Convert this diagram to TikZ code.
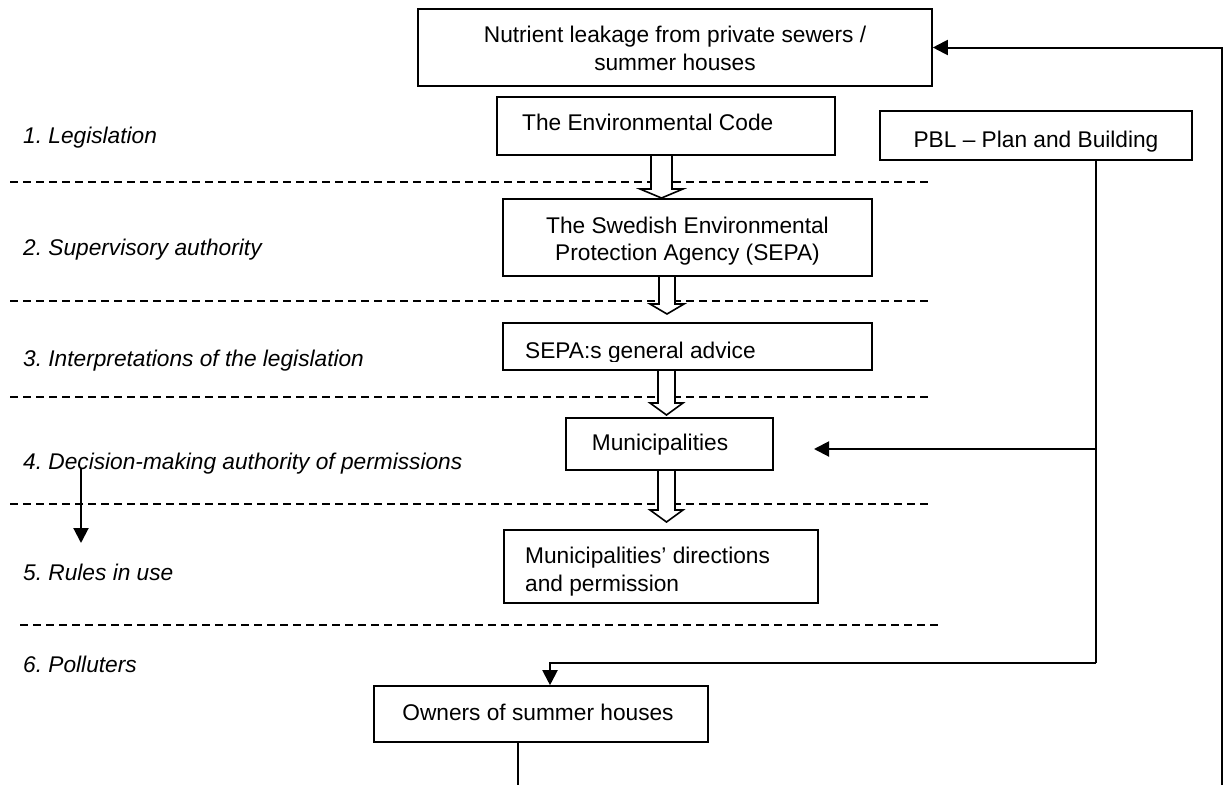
\documentclass[tikz,border=0pt]{standalone}
\usepackage{fontspec}
\setmainfont{Liberation Sans}
\usetikzlibrary{arrows.meta,calc}
\frenchspacing
\newcommand\hollowarrow[6]{% cx, shaft half, head half, top, base, tip
  \filldraw[hollow] (#1-#2,#4) -- (#1-#2,#5) -- (#1-#3,#5) -- (#1,#6) -- (#1+#3,#5) -- (#1+#2,#5) -- (#1+#2,#4) -- cycle;}
\begin{document}
\begin{tikzpicture}[x=1pt,y=-1pt,
  box/.style={draw=black,line width=1.6pt,inner sep=0pt,fill=white},
  txt/.style={inner sep=0pt,anchor=base,font=\fontsize{22.7}{28}\selectfont},
  lab/.style={inner sep=0pt,anchor=base west,font=\fontsize{22.7}{28}\selectfont\itshape},
  conn/.style={line width=2pt},
  tip/.style={line width=2pt,-{Triangle[length=15pt,width=15pt]}},
  dashline/.style={line width=1.5pt,dash pattern=on 8pt off 5pt},
  hollow/.style={draw=black,fill=white,line width=1.6pt,line join=miter}]
\useasboundingbox (0,0) rectangle (1224,785);

% dashed separators
\draw[dashline] (10,182) -- (928,182);
\draw[dashline] (10,301) -- (928,301);
\draw[dashline] (10,397) -- (928,397);
\draw[dashline] (10,504) -- (928,504);
\draw[dashline] (20,625) -- (938,625);

% boxes
\node[box,minimum width=514pt,minimum height=77pt] (top) at (675,47.5) {};
\node[box,minimum width=338pt,minimum height=58pt] (env) at (666,126) {};
\node[box,minimum width=312pt,minimum height=49pt] (pbl) at (1036,135.5) {};
\node[box,minimum width=369pt,minimum height=77pt] (sepa) at (687.5,237.5) {};
\node[box,minimum width=369pt,minimum height=47pt] (adv) at (687.5,346.5) {};
\node[box,minimum width=207pt,minimum height=52pt] (muni) at (669.5,444) {};
\node[box,minimum width=314pt,minimum height=73pt] (dir) at (661,566.5) {};
\node[box,minimum width=334pt,minimum height=56pt] (own) at (541,714) {};

% box texts
\node[txt] (topt1) at (675,42) {Nutrient leakage from private sewers /};
\node[txt] (topt2) at (675,70) {summer houses};
\node[txt,anchor=base west] (envt) at (522,130) {The Environmental Code};
\node[txt] (pblt) at (1036,147) {PBL -- Plan and Building};
\node[txt] (sepat1) at (687.5,233) {The Swedish Environmental};
\node[txt] (sepat2) at (687.5,260) {Protection Agency (SEPA)};
\begin{scope}
\clip (503,323) rectangle (872,361);
\node[txt,anchor=base west] (advt) at (525,358) {SEPA:s general advice};
\end{scope}
\node[txt] (munit) at (660,450) {Municipalities};
\node[txt,anchor=base west] (dirt1) at (525,563) {Municipalities’ directions};
\node[txt,anchor=base west] (dirt2) at (525,591) {and permission};
\node[txt] (ownt) at (538,720) {Owners of summer houses};

% left labels
\node[lab] (l1) at (23,143) {1. Legislation};
\node[lab] (l2) at (23,255) {2. Supervisory authority};
\node[lab] (l3) at (23,366) {3. Interpretations of the legislation};
\node[lab] (l4) at (23,469) {4. Decision-making authority of permissions};
\node[lab] (l5) at (23,580) {5. Rules in use};
\node[lab] (l6) at (23,672) {6. Polluters};

% hollow block arrows
\hollowarrow{661.5}{10.5}{21.5}{155}{189}{198}
\hollowarrow{667}{8}{17}{276}{304}{314}
\hollowarrow{666.5}{8.5}{16.5}{370}{403}{415}
\hollowarrow{666.5}{8.5}{16.5}{470}{510}{522}

% connectors
\coordinate (loopstart) at (1222,785);
\draw[tip] (loopstart) |- (top.east);
\coordinate (pblout) at (1096,160);
\coordinate (pblturn) at (1096,663);
\coordinate (munitip) at (814,449);
\coordinate (munisrc) at (1096,449);
\draw[conn] (pblout) -- (pblturn);
\draw[tip] (pblturn) -| ([xshift=9pt]own.north);
\draw[tip] (munisrc) -- (munitip);
\coordinate (ownend) at (518,785);
\draw[conn] (own.south -| ownend) -- (ownend);
\coordinate (la) at (81,468);
\coordinate (lb) at (81,543);
\draw[tip] (la) -- (lb);
\end{tikzpicture}
\end{document}
